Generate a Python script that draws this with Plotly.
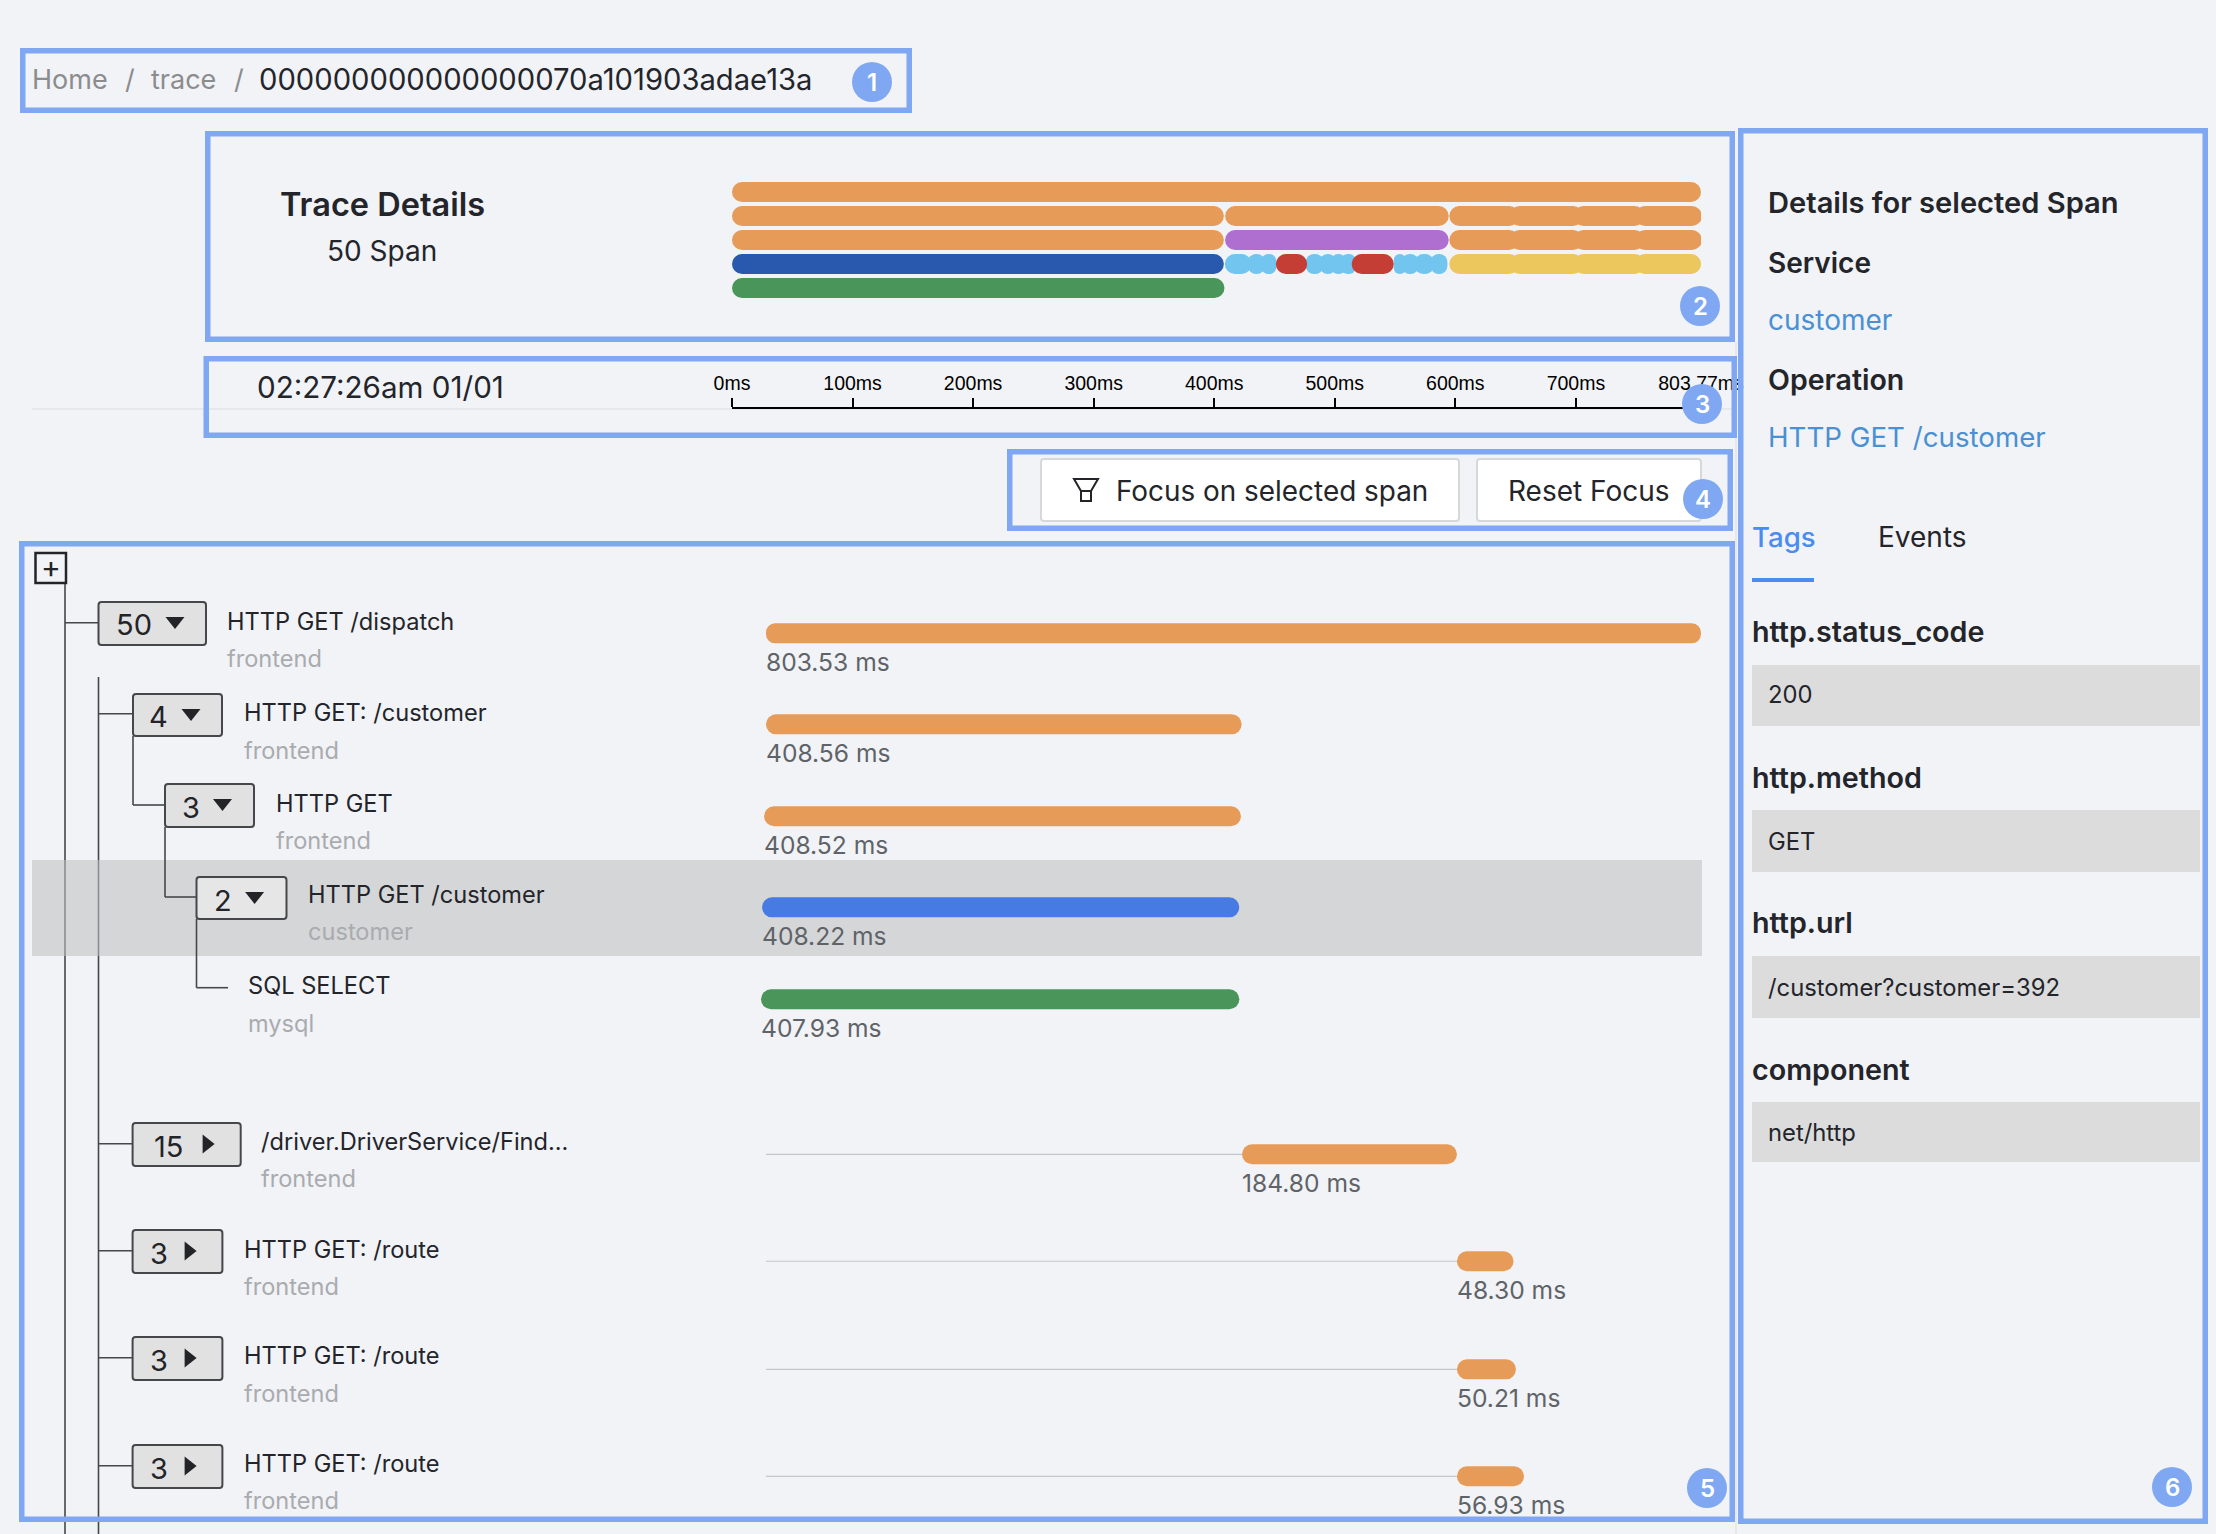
import plotly.graph_objects as go

W, H = 2216, 1534

# ---------- data ----------
total_ms = 803.77
timeline_ticks = [0, 100, 200, 300, 400, 500, 600, 700, 803.77]
timeline_labels = ["0ms", "100ms", "200ms", "300ms", "400ms", "500ms", "600ms", "700ms", "803.77ms"]

mini_rows = [0, 1, 1, 1, 1, 1, 1, 2, 2, 2, 2, 2, 2, 3, 3, 3, 3, 3, 3, 3, 3, 3, 3, 3, 3, 3, 3, 3, 3, 3, 3, 4]
mini_start = [0, 0, 409, 595, 645, 698, 749, 0, 409, 595, 645, 698, 749, 0, 408.8, 428, 439, 451.1, 476, 487.5, 497.5, 505.5, 514, 548.9, 555.5, 566, 579.5, 595, 645, 698, 749, 0]
mini_end = [803.77, 408, 594.5, 653, 706, 757, 804.5, 408, 594.5, 653, 706, 757, 804.5, 408, 431, 442, 451.5, 477.1, 490.5, 501, 508.5, 517, 548.9, 559, 569.5, 582.5, 593.4, 653, 706, 757, 803.8, 408.5]
mini_service = ["frontend"] * 7 + ["frontend", "driver", "frontend", "frontend", "frontend", "frontend"] + ["customer"] \
    + ["redis"] * 3 + ["error"] + ["redis"] * 4 + ["error"] + ["redis"] * 4 + ["route"] * 4 + ["mysql"]

span_names = ["HTTP GET /dispatch", "HTTP GET: /customer", "HTTP GET", "HTTP GET /customer", "SQL SELECT",
              "/driver.DriverService/Find...", "HTTP GET: /route", "HTTP GET: /route", "HTTP GET: /route"]
span_service = ["frontend", "frontend", "frontend", "customer", "mysql", "frontend", "frontend", "frontend", "frontend"]
span_counts = ["50", "4", "3", "2", "", "15", "3", "3", "3"]
span_slot = [0, 0.995, 2.0, 2.995, 4.0, 5.694, 6.863, 8.044, 9.213]
span_start = [0, 0, -1.7, -3.4, -4.3, 409.5, 594.4, 594.4, 594.4]
span_end = [804.3, 409.2, 408.6, 407.2, 407.2, 594.4, 643.1, 645.2, 652.1]
span_labels = ["803.53 ms", "408.56 ms", "408.52 ms", "408.22 ms", "407.93 ms", "184.80 ms", "48.30 ms", "50.21 ms", "56.93 ms"]

tag_names = ["http.status_code", "http.method", "http.url", "component"]
tag_values = ["200", "GET", "/customer?customer=392", "net/http"]

# ---------- style ----------
BG = "#f1f3f7"
BLUEBOX = "#80a8f2"
INK = "#23252a"
SUB = "#a9abae"
LINE = "#45474a"
FONT = "Inter"
MINI_COL = {"frontend": "#e69c58", "driver": "#ae6fd0", "customer": "#2958af", "redis": "#72c5ee",
            "error": "#c43e35", "route": "#ebc75e", "mysql": "#49955a"}
SPAN_COL = {"frontend": "#e69c58", "customer": "#477be3", "mysql": "#49955a"}


def fx(px):
    return px / W


def fy(py):
    return 1 - py / H


shapes, annots = [], []


def text(x, y, s, size, color=INK, weight=400, anchor="left", family=FONT):
    annots.append(dict(xref="paper", yref="paper", x=fx(x), y=fy(y - 1), text=s, showarrow=False,
                       xanchor=anchor, yanchor="middle", borderpad=0, borderwidth=0,
                       font=dict(family=family, size=size, color=color, weight=weight)))


def rect(x0, y0, x1, y1, fill="rgba(0,0,0,0)", line=None, lw=0, layer="below"):
    shapes.append(dict(type="rect", xref="paper", yref="paper", x0=fx(x0), x1=fx(x1), y0=fy(y0), y1=fy(y1),
                       fillcolor=fill, line=dict(color=line or "rgba(0,0,0,0)", width=lw), layer=layer))


def rrect(x0, y0, x1, y1, r, fill="rgba(0,0,0,0)", line=None, lw=0, layer="below"):
    p = lambda a, b: f"{fx(a)},{fy(b)}"
    path = (f"M{p(x0 + r, y0)} L{p(x1 - r, y0)} Q{p(x1, y0)} {p(x1, y0 + r)} L{p(x1, y1 - r)} "
            f"Q{p(x1, y1)} {p(x1 - r, y1)} L{p(x0 + r, y1)} Q{p(x0, y1)} {p(x0, y1 - r)} "
            f"L{p(x0, y0 + r)} Q{p(x0, y0)} {p(x0 + r, y0)} Z")
    shapes.append(dict(type="path", xref="paper", yref="paper", path=path, fillcolor=fill,
                       line=dict(color=line or "rgba(0,0,0,0)", width=lw), layer=layer))


def hv(x0, y0, x1, y1, color=LINE, lw=1.6, layer="below"):
    shapes.append(dict(type="line", xref="paper", yref="paper", x0=fx(x0), x1=fx(x1), y0=fy(y0), y1=fy(y1),
                       line=dict(color=color, width=lw), layer=layer))


def poly(pts, fill=None, line=None, lw=0, layer="above"):
    path = "M" + " L".join(f"{fx(a)},{fy(b)}" for a, b in pts) + " Z"
    shapes.append(dict(type="path", xref="paper", yref="paper", path=path,
                       fillcolor=fill or "rgba(0,0,0,0)", line=dict(color=line or "rgba(0,0,0,0)", width=lw), layer=layer))


def caret(cx, cy, down=True):
    if down:
        poly([(cx - 9.5, cy - 6), (cx + 9.5, cy - 6), (cx, cy + 6)], fill="#222428")
    else:
        poly([(cx - 6, cy - 9.5), (cx + 6, cy), (cx - 6, cy + 9.5)], fill="#222428")


fig = go.Figure()

# ---------- axes geometry ----------
MINI_L, MINI_R = 732, 1701
WF_L, WF_R = 700, 1720
WF_ZERO, WF_SCALE = 766, 1.1624
WF_ROW0, WF_ROWH = 633.3, 91.5
WF_T, WF_B = 600, 1534

# minimap bars
for svc, col in MINI_COL.items():
    idx = [i for i, s in enumerate(mini_service) if s == svc]
    fig.add_trace(go.Bar(orientation="h", y=[mini_rows[i] for i in idx], base=[mini_start[i] for i in idx],
                         x=[mini_end[i] - mini_start[i] for i in idx], width=20 / 24,
                         marker=dict(color=col, cornerradius=10, line=dict(width=0)),
                         xaxis="x", yaxis="y", cliponaxis=False, hoverinfo="skip", showlegend=False))

# wait lines leading up to later spans
wx, wy = [], []
for st, sl in zip(span_start, span_slot):
    if st > 0:
        wx += [0, st, None]
        wy += [sl, sl, None]
fig.add_trace(go.Scatter(x=wx, y=wy, mode="lines", line=dict(color="#c4c6ca", width=1.2),
                         xaxis="x2", yaxis="y2", hoverinfo="skip", showlegend=False))

# waterfall bars
for svc, col in SPAN_COL.items():
    idx = [i for i, s in enumerate(span_service) if s == svc]
    fig.add_trace(go.Bar(orientation="h", y=[span_slot[i] for i in idx], base=[span_start[i] for i in idx],
                         x=[span_end[i] - span_start[i] for i in idx], width=20 / WF_ROWH,
                         marker=dict(color=col, cornerradius=10, line=dict(width=0)),
                         xaxis="x2", yaxis="y2", cliponaxis=False, hoverinfo="skip", showlegend=False))

for st, sl, lab in zip(span_start, span_slot, span_labels):
    annots.append(dict(xref="x2", yref="y2", x=st, y=sl, text=lab, showarrow=False, xanchor="left", yanchor="middle",
                       yshift=-29, xshift=0, borderpad=0, borderwidth=0, font=dict(family=FONT, size=24.6, color="#5f6368")))

# ---------- page furniture below marks ----------
hv(32, 409, 1735, 409, color="#e3e4e8", lw=1.5)
hv(1736, 342, 1736, 1534, color="#e3e4e8", lw=1.5)
rect(32, 860, 1702, 956, fill="#d5d6d8")

# ---------- breadcrumb ----------
text(32, 80, "Home", 27, "#8b8c8e")
text(125, 80, "/", 27, "#8b8c8e")
text(150.5, 80, "trace", 27, "#8b8c8e")
text(234, 80, "/", 27, "#8b8c8e")
text(259, 80, "000000000000000070a101903adae13a", 29.2, INK)

# ---------- header ----------
text(382, 205, "Trace Details", 32.5, INK, 600, "center")
text(382, 252, "50 Span", 28, INK, 400, "center")
text(257, 388, "02:27:26am 01/01", 29.6, INK)

# ---------- buttons ----------
rrect(1041, 459, 1459, 521, 3, fill="#ffffff", line="#d6d8da", lw=2)
rrect(1477, 459, 1701, 521, 3, fill="#ffffff", line="#d6d8da", lw=2)
poly([(1074, 479), (1098, 479), (1091, 491), (1091, 501), (1081, 501), (1081, 491)], line="#222428", lw=2)
hv(1081, 491, 1091, 491, color="#222428", lw=2, layer="above")
text(1116, 492, "Focus on selected span", 27.9, INK)
text(1508, 492, "Reset Focus", 28, INK)

# ---------- tree ----------
rect(35.5, 553, 66, 583, line="#222428", lw=2.5)
text(50.7, 568, "+", 30, "#222428", 400, "center")

for x, y0 in ((65, 584), (98.5, 677)):
    hv(x, y0, x, 860)
    hv(x, 860, x, 956, color="#8b8c8f")
    hv(x, 956, x, H)

tree = [  # box x0, x1, y0, y1, num x, caret x, name x, name y, sub y, hline y, expanded
    (98.5, 206, 602, 645, 134, 175, 227, 622, 659, 622.7, True),
    (133, 222, 694, 736, 158, 191, 243.5, 713, 751, 713.7, True),
    (165, 254, 784, 827, 191, 222.5, 275.5, 804, 841, 805, True),
    (196.5, 286.5, 877, 919, 222.5, 254.6, 307.5, 895.7, 932.7, 897, True),
    None,
    (132.6, 240.7, 1123, 1166, 168.4, 208.6, 261, 1142.7, 1179, 1143.7, False),
    (132.6, 222.4, 1230, 1273, 158.8, 190.6, 243.5, 1250, 1287, 1250.7, False),
    (132.6, 222.4, 1337, 1380, 158.8, 190.6, 243.5, 1356.7, 1394, 1357.7, False),
    (132.6, 222.4, 1445, 1488, 158.8, 190.6, 243.5, 1464, 1501, 1465.7, False),
]
parent_x = {0: 65, 1: 98.5, 2: 133, 3: 165, 5: 98.5, 6: 98.5, 7: 98.5, 8: 98.5}
for i, t in enumerate(tree):
    if t is None:
        continue
    x0, x1, y0, y1, nx, cx, tx, ty, sy, hy, exp = t
    hv(parent_x[i], hy, x0, hy)
    rrect(x0, y0, x1, y1, 3, fill="#e6e6e7" if i == 3 else "#e1e1e2", line=LINE, lw=2)
    text(nx, y0 + 24, span_counts[i], 29, "#222428", 400, "center")
    caret(cx, y0 + 21, exp)
    text(tx, ty, span_names[i], 23.6, INK)
    text(tx, sy, span_service[i], 23.6, SUB)
hv(133, 736, 133, 805)
hv(165, 827, 165, 897)
hv(196.5, 919, 196.5, 987.7)
hv(196.5, 987.7, 228, 987.7)
text(248, 986.7, span_names[4], 23.6, INK)
text(248, 1024, span_service[4], 23.6, SUB)

# ---------- right panel ----------
text(1768, 203, "Details for selected Span", 29.1, INK, 600)
text(1768, 264, "Service", 28, INK, 600)
text(1768, 321, "customer", 28, "#4a90d2")
text(1768, 380, "Operation", 28.5, INK, 600)
text(1768, 438, "HTTP GET /customer", 27.7, "#4a90d2")
text(1752, 538, "Tags", 27.6, "#4a8cf0", 500)
text(1878, 538, "Events", 28, INK)
rect(1752, 578, 1814, 582, fill="#4a8cf0")
tag_y = [(632, 665, 726, 695), (778, 810, 872, 842), (924, 956, 1018, 988), (1070, 1102, 1162, 1133)]
for nm, val, (ny, b0, b1, vy) in zip(tag_names, tag_values, tag_y):
    text(1752, ny, nm, 28.7, INK, 600)
    rect(1752, b0, 2200, b1, fill="#dcdcdd")
    text(1768, vy, val, 23.8, INK)

# ---------- annotation boxes and badges ----------
for x0, y0, x1, y1 in [(20, 48, 912, 113), (205, 131, 1735, 342), (203.5, 356, 1737, 438),
                       (1007, 449, 1733, 531), (19, 541, 1735, 1522), (1738, 128, 2208, 1524)]:
    rect(x0 + 2.75, y0 + 2.75, x1 - 2.75, y1 - 2.75, line=BLUEBOX, lw=5.5, layer="above")
for n, cx, cy in [(1, 872, 82), (2, 1700, 306), (3, 1702, 404), (4, 1703, 499), (5, 1707, 1488), (6, 2172, 1487)]:
    shapes.append(dict(type="circle", xref="paper", yref="paper", x0=fx(cx - 20), x1=fx(cx + 20), y0=fy(cy - 20), y1=fy(cy + 20),
                       fillcolor=BLUEBOX, line=dict(width=0), layer="above"))
    text(cx, cy + 1, str(n), 24, "#ffffff", 600, "center")

# ---------- layout ----------
ms_per_px = 1 / WF_SCALE
fig.update_layout(
    width=W, height=H, autosize=False, margin=dict(l=0, r=0, t=0, b=0, pad=0, autoexpand=False),
    paper_bgcolor=BG, plot_bgcolor="rgba(0,0,0,0)", barmode="overlay", showlegend=False,
    shapes=shapes, annotations=annots, hovermode=False,
    xaxis=dict(domain=[fx(MINI_L), fx(MINI_R)], range=[0, total_ms], anchor="free", position=fy(408), side="top",
               showline=True, linecolor="#000000", linewidth=2, ticks="outside", ticklen=9, tickwidth=1.5, tickcolor="#000000",
               tickmode="array", tickvals=timeline_ticks, ticktext=timeline_labels, showgrid=False, zeroline=False, automargin=False,
               tickfont=dict(family="Liberation Sans", size=19.5, color="#000000"), ticklabeloverflow="allow", fixedrange=True),
    yaxis=dict(domain=[fy(300), fy(180)], range=[4.5, -0.5], visible=False, automargin=False, fixedrange=True),
    xaxis2=dict(domain=[fx(WF_L), fx(WF_R)], range=[(WF_L - WF_ZERO) * ms_per_px, (WF_R - WF_ZERO) * ms_per_px],
                visible=False, anchor="y2", automargin=False, fixedrange=True),
    yaxis2=dict(domain=[fy(WF_B), fy(WF_T)], range=[(WF_B - WF_ROW0) / WF_ROWH, (WF_T - WF_ROW0) / WF_ROWH],
                visible=False, anchor="x2", automargin=False, fixedrange=True),
)

fig.write_html("out.html", config=dict(displayModeBar=False),
               post_script="document.body.style.margin='0';document.body.style.overflow='hidden';")
